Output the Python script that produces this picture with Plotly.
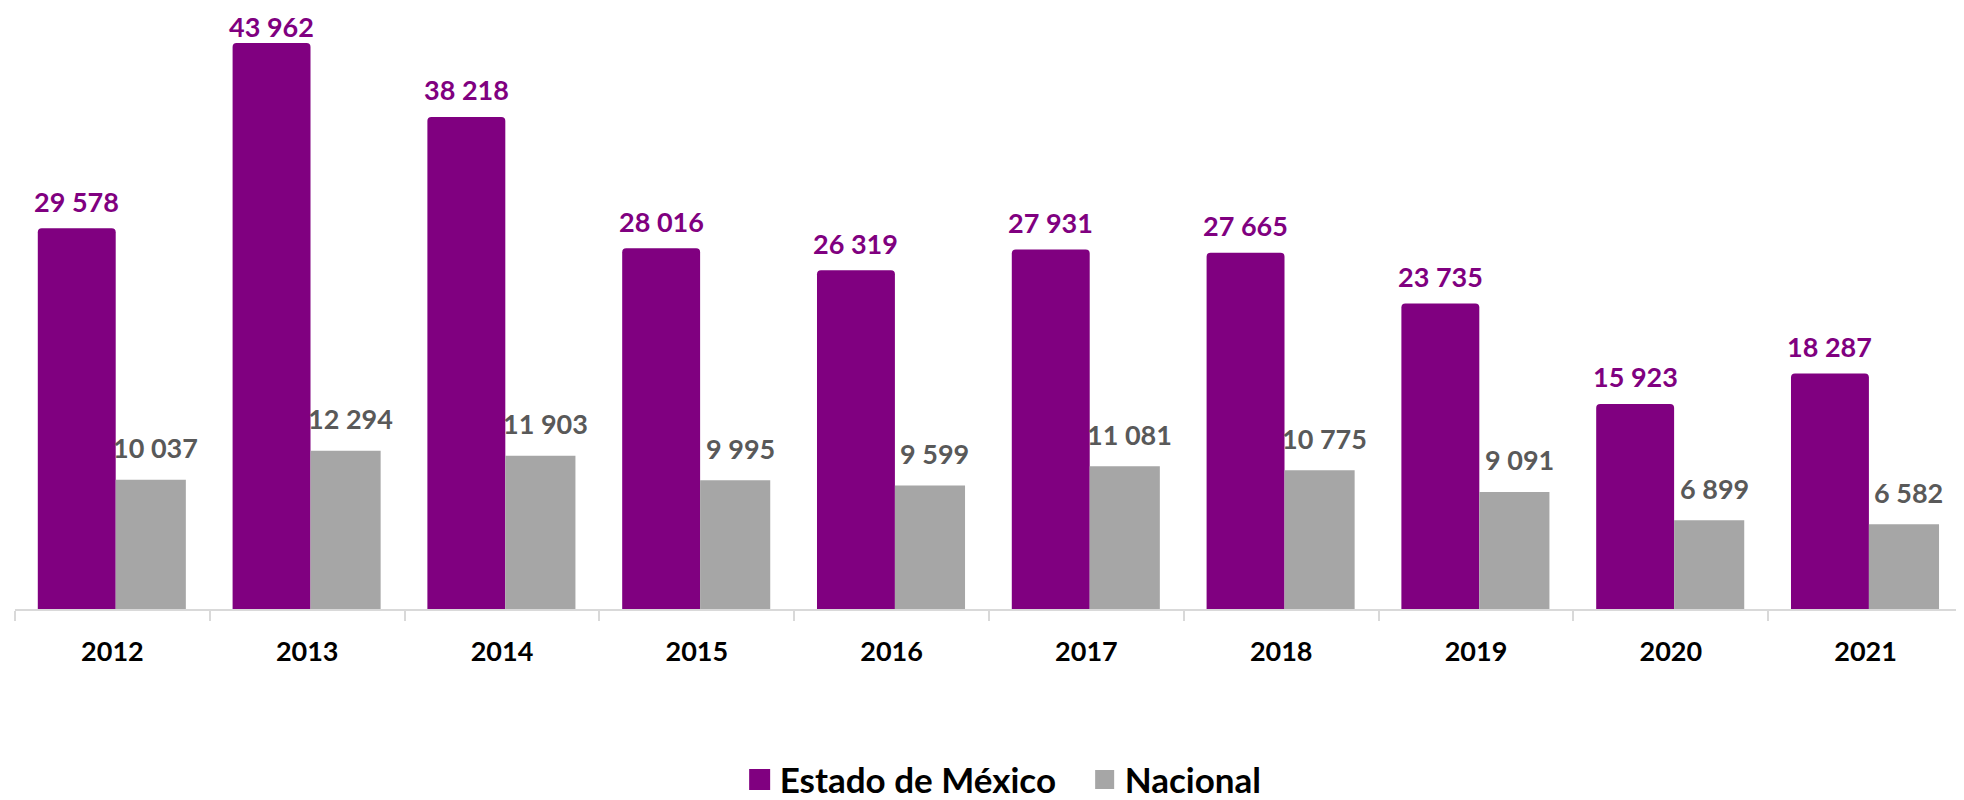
import plotly.graph_objects as go

years = ["2012", "2013", "2014", "2015", "2016", "2017", "2018", "2019", "2020", "2021"]
edomex = [29578, 43962, 38218, 28016, 26319, 27931, 27665, 23735, 15923, 18287]
nacional = [10037, 12294, 11903, 9995, 9599, 11081, 10775, 9091, 6899, 6582]
series_names = ["Estado de México", "Nacional"]

PURPLE = "#800080"
GRAY = "#A6A6A6"
LABEL_GRAY = "#595959"
FONT = "Lato"

# the page body adds an 8px margin around the figure
W, H = 1956, 792
ML, MR, MT, MB = 7, 1, 0, 191
plot_h = H - MT - MB
Y_MAX = 46680

p_off, p_w = -0.383, 0.40
g_off, g_w = 0.017, 0.36

LABEL_GAP_P = 27      # px between bar top and label centre (purple)
LABEL_GAP_G = 32      # px between bar top and label centre (gray)
LABEL_MIN_CENTER = 19  # labels are kept inside the chart area (px from top)


def fmt(v):
    return f"{v:,}".replace(",", " ")


def label_shift(v, gap):
    bar_top_px = MT + plot_h * (1 - v / Y_MAX)
    return min(gap, bar_top_px - LABEL_MIN_CENTER)


fig = go.Figure()
fig.add_trace(go.Bar(
    x=years, y=edomex, name=series_names[0], showlegend=False,
    marker=dict(color=PURPLE, cornerradius=4, line=dict(width=0)),
    offset=p_off, width=p_w,
))
fig.add_trace(go.Bar(
    x=years, y=nacional, name=series_names[1], showlegend=False,
    marker=dict(color=GRAY, line=dict(width=0)),
    offset=g_off, width=g_w,
))
# legend entries with larger square symbols
fig.add_trace(go.Scatter(
    x=[None], y=[None], mode="markers", name=series_names[0],
    marker=dict(symbol="square", size=16, color=PURPLE, line=dict(width=5, color=PURPLE)),
    hoverinfo="skip",
))
fig.add_trace(go.Scatter(
    x=[None], y=[None], mode="markers", name=series_names[1],
    marker=dict(symbol="square", size=15, color=GRAY, line=dict(width=4, color=GRAY)),
    hoverinfo="skip",
))

annotations = []
for i, v in enumerate(edomex):
    annotations.append(dict(
        x=i + p_off + p_w / 2, y=v, xref="x", yref="y", text=fmt(v), showarrow=False,
        yshift=label_shift(v, LABEL_GAP_P), yanchor="middle",
        font=dict(family=FONT, size=27, color=PURPLE, weight="bold"),
    ))
for i, v in enumerate(nacional):
    annotations.append(dict(
        x=i + g_off + g_w / 2, y=v, xref="x", yref="y", text=fmt(v), showarrow=False,
        xshift=5, yshift=label_shift(v, LABEL_GAP_G), yanchor="middle",
        font=dict(family=FONT, size=27, color=LABEL_GRAY, weight="bold"),
    ))

fig.update_layout(
    width=W, height=H,
    margin=dict(l=ML, r=MR, t=MT, b=MB, autoexpand=False),
    paper_bgcolor="white", plot_bgcolor="white",
    barmode="group",
    showlegend=True,
    legend=dict(
        orientation="h", x=0.372, xanchor="left", xref="paper",
        y=-0.284, yanchor="middle", itemsizing="trace",
        font=dict(family=FONT, size=35, color="black", weight="bold"),
        itemwidth=30, tracegroupgap=0,
        entrywidthmode="pixels", entrywidth=300,
    ),
    annotations=annotations,
    font=dict(family=FONT),
)
fig.update_xaxes(
    type="category", categoryorder="array", categoryarray=years,
    range=[-0.5, len(years) - 0.5],
    showline=True, linecolor="#D9D9D9", linewidth=2,
    ticks="outside", tickson="boundaries", ticklen=10, tickcolor="#D9D9D9", tickwidth=2,
    tickfont=dict(family=FONT, size=27, color="black", weight="bold"),
    ticklabelstandoff=18,
    showgrid=False, zeroline=False,
)
fig.update_yaxes(range=[0, Y_MAX], visible=False, showgrid=False, zeroline=False)

fig.write_html("out.html")
